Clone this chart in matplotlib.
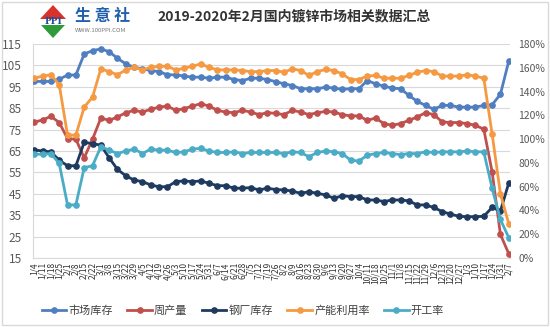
import matplotlib
matplotlib.use("Agg")
import matplotlib.pyplot as plt
from matplotlib.patches import Polygon, Rectangle
from matplotlib.lines import Line2D
from matplotlib.ticker import FuncFormatter, MultipleLocator

plt.rcParams['font.family'] = ['Noto Sans CJK SC', 'DejaVu Sans']

dates = ["1/4", "1/11", "1/18", "1/25", "2/1", "2/8", "2/15", "2/22", "3/1", "3/8",
         "3/15", "3/22", "3/29", "4/5", "4/12", "4/19", "4/26", "5/3", "5/10", "5/17",
         "5/24", "5/31", "6/7", "6/14", "6/21", "6/28", "7/5", "7/12", "7/19", "7/26",
         "8/2", "8/9", "8/16", "8/23", "8/30", "9/6", "9/13", "9/20", "9/27", "10/4",
         "10/11", "10/18", "10/25", "11/1", "11/8", "11/15", "11/22", "11/29", "12/6", "12/13",
         "12/20", "12/27", "1/3", "1/10", "1/17", "1/24", "1/31", "2/7"]

market_stock = [97.5, 97.5, 97.5, 98.5, 100.5, 100.5, 110.3, 111.9, 112.7, 111.4,
                108.3, 105.7, 104.1, 103.4, 102.6, 102.1, 100.6, 100.6, 100.0, 99.5,
                99.5, 99.0, 99.5, 99.5, 98.4, 97.9, 99.0, 99.0, 98.4, 97.4,
                96.4, 95.6, 94.1, 94.1, 94.1, 94.8, 94.4, 93.8, 94.1, 94.1,
                97.9, 96.4, 95.3, 94.4, 94.1, 91.0, 88.2, 86.3, 84.5, 86.3,
                86.3, 85.5, 85.5, 85.5, 86.3, 86.6, 91.5, 107.0]

weekly_output = [78.5, 79.5, 81.2, 78.3, 70.8, 70.5, 61.8, 70.5, 80.4, 79.3,
                 80.9, 82.9, 84.0, 83.2, 84.5, 85.5, 86.0, 84.0, 84.8, 86.0,
                 87.1, 86.0, 84.0, 83.2, 82.9, 84.0, 83.2, 82.0, 82.9, 82.6,
                 82.0, 84.0, 83.2, 82.0, 82.9, 83.5, 83.2, 82.0, 81.4, 81.4,
                 79.3, 80.4, 77.8, 77.0, 77.8, 79.3, 80.9, 82.9, 82.0, 78.6,
                 78.3, 78.3, 77.8, 77.0, 75.2, 55.3, 26.0, 17.0]

mill_stock = [65.5, 65.0, 64.6, 60.7, 58.1, 58.1, 69.0, 68.5, 67.7, 61.8,
              56.4, 53.4, 51.4, 50.7, 49.1, 48.3, 48.3, 50.7, 51.0, 50.7,
              51.0, 49.9, 48.8, 48.8, 47.6, 47.6, 47.9, 46.8, 47.6, 47.0,
              46.8, 46.3, 45.2, 46.0, 45.2, 44.5, 42.9, 44.1, 43.7, 43.7,
              42.1, 42.1, 41.4, 42.1, 42.1, 41.7, 39.8, 39.8, 38.6, 36.7,
              35.5, 34.5, 34.3, 34.3, 34.5, 38.6, 37.0, 50.0]

capacity_util = [99.0, 100.0, 100.6, 96.0, 72.4, 72.4, 85.5, 90.2, 103.4, 102.1,
                 100.6, 102.9, 104.1, 102.9, 104.1, 104.6, 104.6, 102.9, 103.7, 104.6,
                 105.7, 104.1, 102.9, 102.9, 102.9, 102.6, 102.1, 102.1, 102.6, 102.6,
                 101.8, 103.4, 102.6, 100.3, 102.1, 103.1, 102.6, 101.0, 98.4, 98.4,
                 100.0, 100.3, 99.0, 99.0, 99.0, 100.3, 101.8, 102.6, 102.1, 100.0,
                 100.0, 100.0, 100.6, 100.0, 99.0, 73.0, 45.0, 31.0]

operating_rate = [63.5, 63.5, 63.8, 59.2, 39.8, 39.8, 57.2, 58.1, 67.0, 65.4,
                  63.8, 65.0, 65.9, 63.8, 65.9, 65.4, 65.4, 64.3, 64.6, 65.9,
                  66.2, 65.0, 64.3, 64.3, 64.6, 63.8, 64.3, 64.3, 64.3, 64.3,
                  63.8, 64.6, 64.3, 62.3, 64.3, 65.0, 64.6, 63.8, 60.7, 60.3,
                  63.0, 63.8, 64.3, 63.8, 63.3, 63.8, 63.8, 64.6, 64.3, 64.6,
                  64.6, 64.6, 65.0, 64.6, 64.6, 47.6, 33.0, 24.5]

left_ticks = [15, 25, 35, 45, 55, 65, 75, 85, 95, 105, 115]

series_names = ["市场库存", "周产量", "钢厂库存", "产能利用率", "开工率"]
series_vals = [market_stock, weekly_output, mill_stock, capacity_util, operating_rate]
colors = ["#4F7EC1", "#C0504D", "#1F3A5F", "#F59A42", "#4BACC6"]

W, H = 550, 327
fig = plt.figure(figsize=(W / 100, H / 100), dpi=100)
fig.patch.set_facecolor("white")

# outer border
fig.patches.append(Rectangle((2 / W, 2 / H), 1 - 4 / W, 1 - 4 / H, transform=fig.transFigure,
                             fill=False, edgecolor="#D9D9D9", linewidth=1))

def fx(px):
    return px / W

def fy(py):
    return 1 - py / H

# logo
fig.patches.append(Polygon([(fx(40), fy(19)), (fx(66), fy(19)), (fx(53), fy(5))],
                           closed=True, transform=fig.transFigure, facecolor="#D9312B", edgecolor="none"))
fig.patches.append(Polygon([(fx(41), fy(25)), (fx(65), fy(25)), (fx(53), fy(38))],
                           closed=True, transform=fig.transFigure, facecolor="#2E9B3A", edgecolor="none"))
fig.patches.append(Rectangle((fx(41), fy(25)), fx(24), 6 / H, transform=fig.transFigure,
                             facecolor="white", edgecolor="none"))
fig.text(fx(53), fy(22), "PPI", ha="center", va="center", fontsize=6.5, color="#1F4E9A",
         fontweight="bold", family="DejaVu Serif")
fig.text(fx(75), fy(16), "生 意 社", ha="left", va="center", fontsize=11.5, color="#1F5FAD",
         fontweight="bold")
fig.text(fx(75), fy(31), "WWW.100PPI.COM", ha="left", va="center", fontsize=4.3, color="#777777")
fig.text(fx(157), fy(16), "2019-2020年2月国内镀锌市场相关数据汇总", ha="left", va="center",
         fontsize=10, color="#333333", fontweight="bold")

# main axes
ax = fig.add_axes([fx(33), fy(258), (510 - 33) / W, (258 - 44) / H])
x = list(range(len(dates)))
handles = []
for name, vals, c in zip(series_names, series_vals, colors):
    ax.plot(x, vals, color=c, lw=2, marker="o", ms=3.8, mec=c, mfc=c, zorder=3)
    handles.append(Line2D([0], [0], color=c, lw=2, marker="o", ms=3.8, label=name))

ax.set_ylim(15, 115)
ax.set_yticks(left_ticks)
ax.set_xlim(-0.15, len(dates) - 0.85)
ax.grid(axis="y", color="#D9D9D9", lw=0.8, zorder=0)
ax.set_xticks(x)
ax.set_xticklabels(dates, rotation=90, fontsize=6, color="#333333")
for s in ["top", "right"]:
    ax.spines[s].set_visible(False)
ax.spines["left"].set_color("#D9D9D9")
ax.spines["bottom"].set_color("#D9D9D9")
ax.tick_params(axis="both", length=0, pad=3)
ax.tick_params(axis="y", labelsize=8.5, labelcolor="#595959", pad=8)

ax2 = ax.twinx()
ax2.set_ylim(0, 1.8)
ax2.yaxis.set_major_locator(MultipleLocator(0.2))
ax2.yaxis.set_major_formatter(FuncFormatter(lambda v, p: f"{v * 100:.0f}%"))
ax2.tick_params(axis="y", length=0, labelsize=7.5, labelcolor="#595959", pad=6)
for s in ["top", "right", "left", "bottom"]:
    ax2.spines[s].set_visible(False)

fig.legend(handles=handles, loc="center", bbox_to_anchor=(fx(243), fy(311)), ncol=5,
           frameon=False, fontsize=8, handlelength=2.2, handletextpad=0.2, columnspacing=1.3,
           labelcolor="#404040")

fig.savefig("out.png", dpi=100)
